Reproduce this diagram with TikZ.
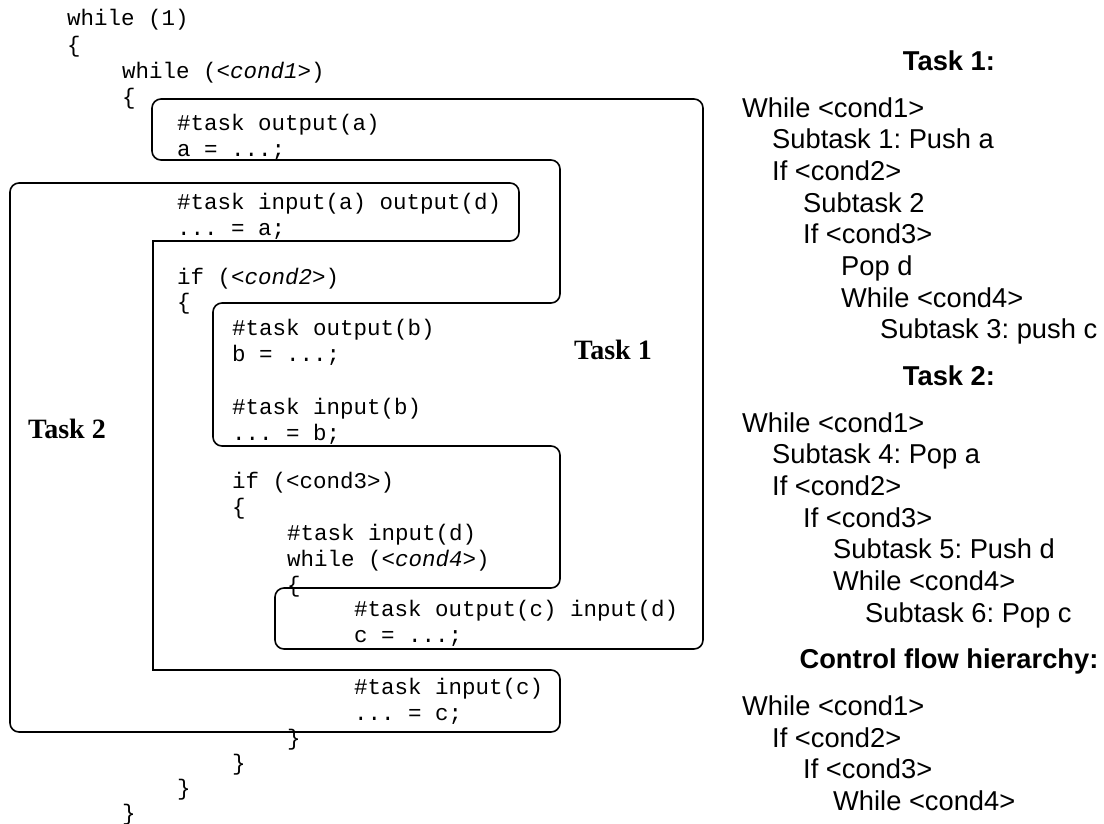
\documentclass[tikz,border=0pt]{standalone}
\usepackage{fontspec}
\setmainfont{Liberation Serif}
\setsansfont{Liberation Sans}
\setmonofont{Liberation Mono}
\frenchspacing
\newcommand\codesize{\ttfamily\fontsize{22.5}{27}\selectfont}
\newcommand\sumsize{\sffamily\fontsize{27.3}{32}\selectfont}
\tikzset{
  code/.style={anchor=base west, inner sep=0pt, font=\codesize},
  sumline/.style={anchor=base west, inner sep=0pt, font=\sumsize},
  sumhead/.style={anchor=base, inner sep=0pt, font=\sumsize\bfseries},
  tasklabel/.style={anchor=base west, inner sep=0pt, font=\rmfamily\bfseries\fontsize{28}{32}\selectfont},
  outline/.style={line width=1.6pt, rounded corners=9pt, line join=round},
}
\begin{document}
\begin{tikzpicture}[x=1pt, y=-1pt]
\useasboundingbox (0,0) rectangle (1104,823);

% ---- source code ----
\node[code] (l01) at (67,25)  {while (1)};
\node[code] (l02) at (67,52)  {\{};
\node[code] (l03) at (122,78) {while (\textit{<cond1>})};
\node[code] (l04) at (122,104) {\{};
\node[code] (l05) at (177,130) {\#task output(a)};
\node[code] (l06) at (177,156) {a = ...;};
\node[code] (l07) at (177,209) {\#task input(a) output(d)};
\node[code] (l08) at (177,235) {... = a;};
\node[code] (l09) at (177,284) {if (\textit{<cond2>})};
\node[code] (l10) at (177,309) {\{};
\node[code] (l11) at (232,335) {\#task output(b)};
\node[code] (l12) at (232,361) {b = ...;};
\node[code] (l13) at (232,414) {\#task input(b)};
\node[code] (l14) at (232,440) {... = b;};
\node[code] (l15) at (232,488) {if (<cond3>)};
\node[code] (l16) at (232,514) {\{};
\node[code] (l17) at (287,540) {\#task input(d)};
\node[code] (l18) at (287,566) {while (\textit{<cond4>})};
\node[code] (l19) at (287,592) {\{};
\node[code] (l20) at (354,616) {\#task output(c) input(d)};
\node[code] (l21) at (354,642) {c = ...;};
\node[code] (l22) at (354,694) {\#task input(c)};
\node[code] (l23) at (354,720) {... = c;};
\node[code] (l24) at (287,745) {\}};
\node[code] (l25) at (232,770) {\}};
\node[code] (l26) at (177,795) {\}};
\node[code] (l27) at (122,820) {\}};

% ---- task outlines ----
\draw[outline] (152,99) -- (703,99) -- (703,649) -- (275,649) -- (275,588)
  -- (560,588) -- (560,446) -- (213,446) -- (213,303) -- (560,303)
  -- (560,160) -- (152,160) -- cycle;

\coordinate (t2a) at (153,241);
\coordinate (t2b) at (153,670);
\draw[outline] (t2b) -- (560,670) -- (560,732) -- (10,732) -- (10,183)
  -- (519,183) -- (519,241) -- (t2a);
\draw[line width=1.6pt, line cap=rect] (t2a) -- (t2b);

\node[tasklabel] (task1) at (574,359) {Task 1};
\node[tasklabel] (task2) at (28,438) {Task 2};

% ---- task summaries ----
\node[sumhead] (h1) at (949,70) {Task 1:};
\node[sumline] (a1) at (742,117) {While <cond1>};
\node[sumline] (a2) at (772,148) {Subtask 1: Push a};
\node[sumline] (a3) at (772,180) {If <cond2>};
\node[sumline] (a4) at (803,212) {Subtask 2};
\node[sumline] (a5) at (803,243) {If <cond3>};
\node[sumline] (a6) at (841,275) {Pop d};
\node[sumline] (a7) at (841,307) {While <cond4>};
\node[sumline] (a8) at (880,338) {Subtask 3: push c};

\node[sumhead] (h2) at (949,385) {Task 2:};
\node[sumline] (b1) at (742,432) {While <cond1>};
\node[sumline] (b2) at (772,463) {Subtask 4: Pop a};
\node[sumline] (b3) at (772,495) {If <cond2>};
\node[sumline] (b4) at (803,527) {If <cond3>};
\node[sumline] (b5) at (833,558) {Subtask 5: Push d};
\node[sumline] (b6) at (833,590) {While <cond4>};
\node[sumline] (b7) at (865,622) {Subtask 6: Pop c};

\node[sumhead] (h3) at (949,668) {Control flow hierarchy:};
\node[sumline] (c1) at (742,715) {While <cond1>};
\node[sumline] (c2) at (772,747) {If <cond2>};
\node[sumline] (c3) at (803,778) {If <cond3>};
\node[sumline] (c4) at (833,810) {While <cond4>};
\end{tikzpicture}
\end{document}
